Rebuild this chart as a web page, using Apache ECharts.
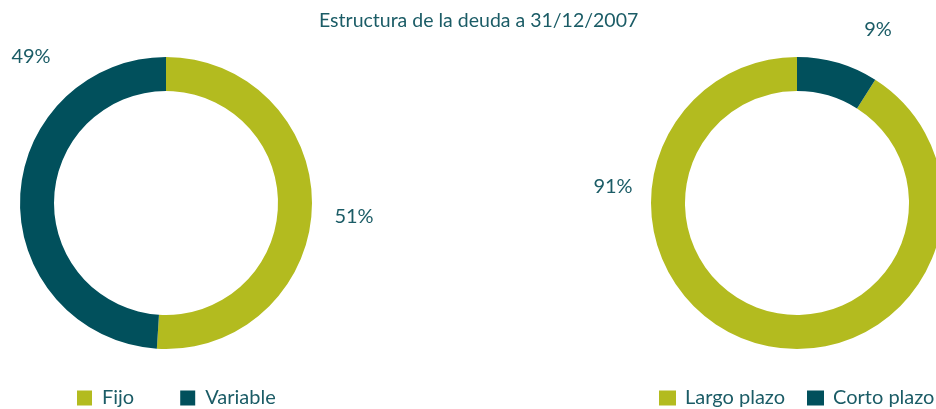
<!DOCTYPE html>
<html>
<head>
<meta charset="utf-8">
<script src="https://cdn.jsdelivr.net/npm/echarts@6/dist/echarts.min.js"></script>
<style>
  html, body { margin: 0; padding: 0; background: #fff; }
  #main { width: 936px; height: 409px; }
</style>
</head>
<body>
<div id="main"></div>
<script>
  // datos
  var tituloTexto = 'Estructura de la deuda a 31/12/2007';
  var tipoCategorias = ['Fijo', 'Variable'];
  var tipoValores = [51, 49];
  var plazoCategorias = ['Largo plazo', 'Corto plazo'];
  var plazoValores = [91, 9];

  var verde = '#b3bb1f';
  var azul = '#01505c';
  var textoColor = '#1b5c66';
  var fuente = 'Lato';

  // posiciones de las etiquetas [serie][dato]
  var etiquetaPos = [
    [[354, 217], [31, 57]],
    [[613, 187], [878, 30]]
  ];

  var myChart = echarts.init(document.getElementById('main'));

  function serieDonut(nombres, valores, centro, horario) {
    return {
      type: 'pie',
      radius: [112, 146],
      center: centro,
      startAngle: 90,
      clockwise: horario,
      silent: true,
      avoidLabelOverlap: false,
      data: nombres.map(function (n, i) {
        return { name: n, value: valores[i], itemStyle: { color: i === 0 ? verde : azul } };
      }),
      label: {
        show: true,
        position: 'outside',
        formatter: '{d}%',
        color: textoColor,
        fontFamily: fuente,
        fontSize: 20
      },
      labelLine: { show: false },
      labelLayout: function (p) {
        var pos = etiquetaPos[p.seriesIndex][p.dataIndex];
        return { x: pos[0], y: pos[1], align: 'center', verticalAlign: 'middle', hideOverlap: false };
      }
    };
  }

  var option = {
    animation: false,
    title: {
      text: tituloTexto,
      left: 314,
      top: 6,
      textStyle: { color: textoColor, fontFamily: fuente, fontSize: 19.5, fontWeight: 'normal' }
    },
    legend: [
      {
        data: tipoCategorias,
        left: 72,
        top: 383,
        width: 300,
        icon: 'rect',
        itemWidth: 15,
        itemHeight: 15,
        itemGap: 46,
        textStyle: { color: textoColor, fontFamily: fuente, fontSize: 20, padding: [0, 0, 0, 5] }
      },
      {
        data: plazoCategorias,
        left: 654,
        top: 383,
        width: 320,
        icon: 'rect',
        itemWidth: 17,
        itemHeight: 15,
        itemGap: 22,
        textStyle: { color: textoColor, fontFamily: fuente, fontSize: 20, padding: [0, 0, 0, 4] }
      }
    ],
    series: [
      serieDonut(tipoCategorias, tipoValores, [166, 203], true),
      serieDonut(plazoCategorias, plazoValores, [797, 203], false)
    ]
  };

  myChart.setOption(option);
</script>
</body>
</html>
